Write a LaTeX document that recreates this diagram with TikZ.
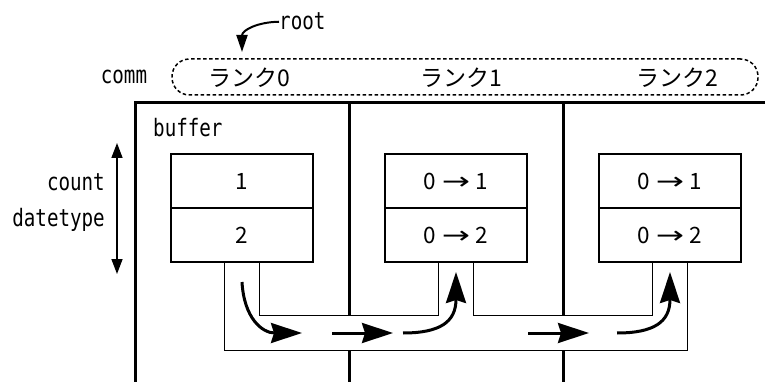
\documentclass[tikz,border=0pt]{standalone}
\usepackage{fontspec}
\setmainfont{Noto Sans CJK JP}
\newfontfamily\monolabel[FakeStretch=0.8]{DejaVu Sans Mono}
\newfontfamily\symfont{DejaVu Sans}
\usetikzlibrary{arrows.meta}

\newcommand{\flowto}{\hspace{0.25em}\scalebox{1.5}[1.05]{\symfont →}\hspace{0.25em}}

\begin{document}
\begin{tikzpicture}[x=1pt,y=-1pt,
  label/.style={font=\monolabel\fontsize{24}{26}\selectfont, inner sep=0pt},
  rank/.style={font=\fontsize{23}{25}\selectfont, inner sep=0pt},
  cell/.style={draw, line width=1.2pt, minimum width=142pt, minimum height=54pt,
               inner sep=0pt, font=\fontsize{22.5}{24}\selectfont},
  frame/.style={line width=3pt},
  pipe/.style={line width=1.2pt},
  flow/.style={line width=3pt, -{Stealth[length=31pt,width=20pt,inset=3pt]}},
  ring/.style={draw, line width=1.5pt, dash pattern=on 3.5pt off 2.5pt,
               rounded corners=17.5pt, minimum width=586pt, minimum height=36pt, inner sep=0pt}]

\useasboundingbox (0,0) rectangle (765,382);

% communicator ring with the three ranks
\node[ring] (commring) at (465,77) {};
\node[label, anchor=base] (comm) at (124,84) {comm};
\node[rank, anchor=base] (rank0) at (249,87) {ランク0};
\node[rank, anchor=base] (rank1) at (461,87) {ランク1};
\node[rank, anchor=base] (rank2) at (677,87) {ランク2};

% root marker
\node[label, anchor=base west] (root) at (279,30) {root};
\coordinate (rootmark) at (242,52);
\draw[line width=2pt, -{Triangle[length=17pt,width=11pt]}]
  (root.west) .. controls (258,22) and (242,30) .. (rootmark);

% process frame and separators (interrupted where the pipes pass)
\draw[frame] (135,382) -- (135,103) -- (765,103);
\draw[frame] (349,103) -- (349,315);
\draw[frame] (349,350) -- (349,382);
\draw[frame] (563,103) -- (563,315);
\draw[frame] (563,350) -- (563,382);

\node[label, anchor=base west] (buffer) at (153,137) {buffer};

% argument labels
\node[label, anchor=base east] (count) at (105,190) {count};
\node[label, anchor=base east] (dtype) at (105,226) {datetype};
\coordinate (spanTop) at (117,143);
\coordinate (spanBot) at (117,274);
\draw[line width=1.6pt, {Triangle[length=15pt,width=11pt]}-{Triangle[length=15pt,width=11pt]}]
  (spanTop) -- (spanBot);

% buffers of each rank
\node[cell] (r0a) at (242,181) {1};
\node[cell] (r0b) at (242,235) {2};
\node[cell] (r1a) at (456,181) {0\flowto 1};
\node[cell] (r1b) at (456,235) {0\flowto 2};
\node[cell] (r2a) at (670,181) {0\flowto 1};
\node[cell] (r2b) at (670,235) {0\flowto 2};

% pipes carrying the broadcast
\draw[pipe] ([xshift=-17.5pt]r0b.south) -- ++(0,88) -| ([xshift=17.5pt]r2b.south);
\draw[pipe] ([xshift=17.5pt]r0b.south) -- ++(0,53) -| ([xshift=-17.5pt]r1b.south);
\draw[pipe] ([xshift=17.5pt]r1b.south) -- ++(0,53) -| ([xshift=-17.5pt]r2b.south);

% data flow arrows inside the pipes
\draw[flow] (242,282) .. controls (244,318) and (262,333) .. (302,333);
\draw[flow] (332,333) -- (393,333);
\draw[flow] (403,333) .. controls (440,333) and (456,322) .. (456,272);
\draw[flow] (528,333) -- (589,333);
\draw[flow] (617,333) .. controls (654,333) and (670,322) .. (670,272);

\end{tikzpicture}
\end{document}
